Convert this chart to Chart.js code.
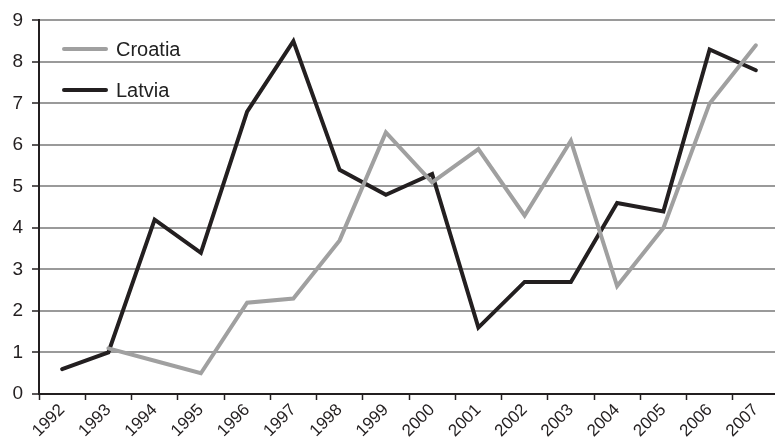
<!DOCTYPE html>
<html>
<head>
<meta charset="utf-8">
<script src="https://cdn.jsdelivr.net/npm/chart.js@4/dist/chart.umd.min.js"></script>
<style>
  html, body { margin: 0; padding: 0; background: #fff; overflow: hidden; }
  #wrap { position: relative; width: 782px; height: 445px; }
  #legend { position: absolute; left: 62px; top: 39px; font-family: "Liberation Sans", Arial, sans-serif; font-size: 20px; color: #222; }
  .item { display: flex; align-items: center; height: 20px; margin-bottom: 21px; }
  .swatch { width: 46px; height: 4px; border-radius: 2px; margin-right: 8px; }
</style>
</head>
<body>
<div id="wrap">
  <canvas id="mainChart" width="782" height="445"></canvas>
  <div id="legend"></div>
</div>
<script>
// 연도 (카테고리)
const years = ['1992', '1993', '1994', '1995', '1996', '1997', '1998', '1999',
  '2000', '2001', '2002', '2003', '2004', '2005', '2006', '2007'];

// 시리즈 값
const croatia = [null, 1.1, 0.8, 0.5, 2.2, 2.3, 3.7, 6.3, 5.1, 5.9, 4.3, 6.1, 2.6, 4.0, 7.0, 8.4];
const latvia = [0.6, 1.0, 4.2, 3.4, 6.8, 8.5, 5.4, 4.8, 5.3, 1.6, 2.7, 2.7, 4.6, 4.4, 8.3, 7.8];

const seriesNames = ['Croatia', 'Latvia'];
const seriesColors = ['#a0a0a0', '#231f20'];

const FONT = '"Liberation Sans", Arial, sans-serif';

const chartData = {
  labels: years,
  datasets: [
    { label: seriesNames[0], data: croatia, borderColor: seriesColors[0] },
    { label: seriesNames[1], data: latvia, borderColor: seriesColors[1] }
  ].map(ds => Object.assign(ds, {
    borderWidth: 4,
    pointRadius: 0,
    tension: 0,
    fill: false,
    borderJoinStyle: 'miter',
    borderCapStyle: 'round'
  }))
};

const options = {
  responsive: false,
  animation: false,
  layout: { padding: { top: 12, right: 3, left: 0, bottom: 0 } },
  plugins: { legend: { display: false }, tooltip: { enabled: false } },
  scales: {
    x: {
      offset: true,
      grid: { offset: true, drawOnChartArea: false, drawTicks: true, tickLength: 6, tickColor: '#231f20', tickWidth: 1.5 },
      border: { color: '#231f20', width: 2 },
      ticks: {
        color: '#231f20', font: { family: FONT, size: 17 },
        autoSkip: false, maxRotation: 45, minRotation: 45, padding: 0
      },
      afterFit: (s) => { s.height = 51; }
    },
    y: {
      min: 0, max: 9,
      grid: { color: '#9a9a9a', lineWidth: 2, tickLength: 7, tickColor: '#231f20', tickWidth: 1.5 },
      border: { color: '#231f20', width: 2 },
      ticks: { stepSize: 1, color: '#231f20', font: { family: FONT, size: 19 }, padding: 9 },
      afterFit: (s) => { s.width = 39; }
    }
  }
};

const mainChart = new Chart(document.getElementById('mainChart').getContext('2d'), {
  type: 'line',
  data: chartData,
  options: options
});

// 범례
const legend = document.getElementById('legend');
seriesNames.forEach((name, i) => {
  const item = document.createElement('div');
  item.className = 'item';
  item.innerHTML = '<span class="swatch" style="background:' + seriesColors[i] + '"></span><span>' + name + '</span>';
  legend.appendChild(item);
});
</script>
</body>
</html>
